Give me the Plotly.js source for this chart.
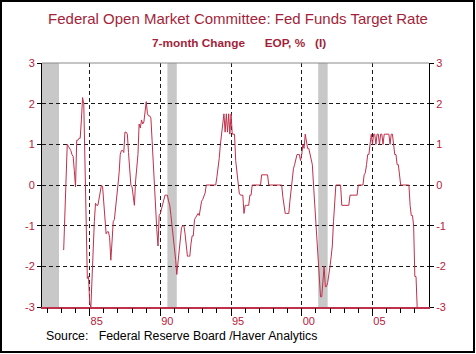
<!DOCTYPE html>
<html><head><meta charset="utf-8">
<script src="https://cdn.plot.ly/plotly-3.0.1.min.js"></script>
<style>
html,body{margin:0;padding:0;background:#fff;overflow:hidden}
#chart{width:476px;height:354px;position:absolute;left:0;top:0}
#frame{position:absolute;left:0;top:0;width:475px;height:353px;box-sizing:border-box;border:2px solid #000;pointer-events:none}
</style></head><body>
<div id="chart"></div><div id="frame"></div>
<script>
// ---- data ----
const titleText = "Federal Open Market Committee: Fed Funds Target Rate";
const subtitleText = "<b>7-month Change\u00a0\u00a0\u00a0\u00a0\u00a0\u00a0EOP, %\u00a0\u00a0\u00a0(I)</b>";
const sourceText = "Source:\u00a0\u00a0\u00a0Federal Reserve Board /Haver Analytics";

const firstYear = 1983;
const firstMonth = 3; // March 1983, monthly thereafter
const sevenMonthChange = [
  // 1983 Mar-Dec
  -1.6, -0.8, 0.2, 1.0, 0.95, 0.9, 0.85, 0.75, 0.7, 0.35,
  // 1984
  -0.05, 1.1, 1.1, 1.15, 1.15, 1.6, 2.15, 2.0, 0.5, -1.0, -2.3, -2.25,
  // 1985
  -2.9, -3.0, -2.2, -1.4, -0.9, -0.45, -0.5, -0.5, -0.35, -0.2, 0.0, -0.05,
  // 1986
  -0.55, -0.9, -1.2, -1.15, -1.15, -1.3, -1.85, -1.4, -0.9, -0.85, -0.6, -0.35,
  // 1987
  0.0, 0.3, 0.75, 0.85, 0.85, 0.8, 1.3, 1.3, 1.25, 0.8, 0.3, 0.0,
  // 1988
  -0.05, -0.3, -0.5, 0.1, 0.4, 0.75, 1.5, 1.4, 1.6, 1.5, 1.55, 1.85,
  // 1989
  2.05, 1.75, 1.7, 1.7, 1.65, 1.1, 0.5, 0.0, -0.6, -1.1, -1.5, -0.75,
  // 1990
  -0.7, -0.6, -0.5, -0.35, -0.25, -0.25, -0.25, -0.4, -0.5, -0.75, -1.0, -1.2,
  // 1991
  -1.5, -1.85, -2.2, -1.9, -1.65, -1.35, -1.05, -1.0, -1.0, -1.2, -1.5, -1.75,
  // 1992
  -1.75, -1.75, -1.45, -1.25, -1.25, -0.85, -0.8, -0.75, -0.7, -0.75, -0.6, -0.4,
  // 1993
  -0.35, -0.25, -0.2, 0, 0, 0, 0, 0, 0, 0, 0, 0,
  // 1994
  0.2, 0.4, 0.65, 1.0, 1.25, 1.5, 1.75, 1.3, 1.75, 1.3, 1.75, 1.25,
  // 1995
  1.75, 1.25, 1.25, 1.25, 0.6, 0.3, 0.0, -0.2, -0.25, -0.25, -0.25, -0.7,
  // 1996
  -0.5, -0.5, -0.5, -0.5, -0.25, -0.25, 0, 0, 0, 0, 0, 0,
  // 1997
  0, 0, 0.25, 0.25, 0.25, 0.25, 0.25, 0.25, 0, 0, 0, 0,
  // 1998
  0, 0, 0, 0, 0, 0, 0, 0, -0.3, -0.5, -0.7, -0.7,
  // 1999
  -0.7, -0.7, -0.4, -0.1, 0.25, 0.4, 0.5, 0.6, 0.75, 0.75, 0.75, 0.6,
  // 2000
  0.75, 1.0, 0.9, 1.25, 1.1, 0.9, 0.9, 0.75, 0.55, 0.5, 0.0, -0.5,
  // 2001
  -1.0, -1.4, -2.0, -2.5, -2.75, -2.75, -2.25, -2.0, -2.5, -2.5, -2.4, -2.25,
  // 2002
  -2.0, -1.75, -1.5, -0.9, -0.3, 0, 0, 0, 0, 0, -0.5, -0.5,
  // 2003
  -0.5, -0.5, -0.5, -0.5, -0.5, -0.25, -0.25, -0.25, -0.25, -0.25, -0.25, -0.25,
  // 2004
  0, 0, 0, 0, 0, 0.25, 0.3, 0.5, 0.75, 0.75, 1.0, 1.25,
  // 2005
  1.0, 1.25, 1.25, 1.0, 1.25, 1.25, 1.0, 1.25, 1.25, 1.0, 1.25, 1.25,
  // 2006
  1.25, 1.25, 1.25, 1.0, 1.25, 1.25, 1.0, 0.75, 0.75, 0.5, 0.5, 0.25,
  // 2007
  0, 0, 0, 0, 0, 0, 0, 0, -0.5, -0.75, -0.75, -1.0,
  // 2008
  -2.25, -2.25, -3.0
];

const recessionStart = ["1981-07-01", "1990-07-01", "2001-03-01"];
const recessionEnd   = ["1982-11-01", "1991-03-01", "2001-11-01"];

const xTickYears  = [1985, 1990, 1995, 2000, 2005];
const xTickLabels = ["85", "90", "95", "00", "05"];
const yTickValues = [-3, -2, -1, 0, 1, 2, 3];
const yTickLabels = ["-3", "-2", "-1", "0", "1", "2", "3"];
const minorYears  = [1982, 1983, 1984, 1985, 1986, 1987, 1988, 1989, 1990, 1991, 1992,
                     1993, 1994, 1995, 1996, 1997, 1998, 1999, 2000, 2001, 2002, 2003,
                     2004, 2005, 2006, 2007, 2008];
const xRange = ["1981-08-18", "2009-01-01"];

// ---- build ----
const pad = n => (n < 10 ? "0" : "") + n;
const dates = sevenMonthChange.map((v, i) => {
  const m = (firstYear * 12 + firstMonth - 1) + i;
  return Math.floor(m / 12) + "-" + pad(m % 12 + 1) + "-01";
});

const lineRed  = "#c0304a";
const tickRed  = "#b8203c";
const titleRed = "#a31f3a";
const gridCol  = "#1a1a1a";
const fontFam  = '"Liberation Sans", Arial, Helvetica, sans-serif';

const traces = [
  {x: dates, y: sevenMonthChange, type: "scatter", mode: "lines",
   line: {color: lineRed, width: 1}, xaxis: "x", yaxis: "y", hoverinfo: "x+y"},
  {x: [], y: [], type: "scatter", mode: "lines", xaxis: "x2", yaxis: "y", hoverinfo: "skip"},
  {x: [], y: [], type: "scatter", mode: "lines", xaxis: "x3", yaxis: "y", hoverinfo: "skip"},
  {x: [], y: [], type: "scatter", mode: "lines", xaxis: "x", yaxis: "y2", hoverinfo: "skip"}
];

const shapes = recessionStart.map((s, i) => ({
  type: "rect", xref: "x", yref: "paper", x0: s, x1: recessionEnd[i], y0: 0, y1: 1,
  fillcolor: "#c8c8c8", line: {width: 0}, layer: "below"
}));
shapes.push({type: "line", xref: "paper", yref: "paper", x0: 0, x1: 1, y0: 1, y1: 1,
  line: {color: "#8a8a8a", width: 1}, layer: "above"});

const layout = {
  width: 476, height: 354,
  margin: {l: 42, r: 47, t: 63, b: 47, pad: 0},
  paper_bgcolor: "#fff", plot_bgcolor: "#fff",
  showlegend: false,
  font: {family: fontFam, size: 11, color: tickRed},
  title: {text: titleText, x: 0.5, xref: "container", xanchor: "center",
          y: 1 - 19 / 354, yref: "container", yanchor: "middle",
          font: {family: fontFam, size: 15, color: titleRed}},
  xaxis: {type: "date", range: xRange, tickmode: "array",
          tickvals: xTickYears.map(y => y + "-07-01"), ticktext: xTickLabels,
          ticks: "outside", ticklen: 3, tickcolor: "rgba(0,0,0,0)",
          showgrid: false, zeroline: false,
          showline: true, linecolor: lineRed, linewidth: 1.5,
          tickfont: {family: fontFam, size: 11, color: tickRed}, fixedrange: true},
  xaxis2: {type: "date", overlaying: "x", range: xRange, tickmode: "array",
           tickvals: xTickYears.map(y => y + "-01-01"),
           ticks: "outside", ticklen: 8, tickcolor: "#000", tickwidth: 1,
           showticklabels: false, showgrid: true, gridcolor: gridCol,
           griddash: "4px,3px", gridwidth: 1, zeroline: false, showline: false,
           fixedrange: true},
  xaxis3: {type: "date", overlaying: "x", range: xRange, tickmode: "array",
           tickvals: minorYears.map(y => y + "-01-01"),
           ticks: "outside", ticklen: 5, tickcolor: "#000", tickwidth: 1,
           showticklabels: false, showgrid: false, zeroline: false, showline: false,
           fixedrange: true},
  yaxis: {range: [-3, 3], tickmode: "array", tickvals: yTickValues, ticktext: yTickLabels,
          ticks: "outside", ticklen: 4, tickcolor: "#000",
          showgrid: true, gridcolor: gridCol, griddash: "4px,3px", gridwidth: 1,
          zeroline: false, showline: true, linecolor: "#000", linewidth: 1,
          tickfont: {family: fontFam, size: 11, color: tickRed}, fixedrange: true},
  yaxis2: {range: [-3, 3], overlaying: "y", side: "right", tickmode: "array",
           tickvals: yTickValues, ticktext: yTickLabels,
           ticks: "outside", ticklen: 4, tickcolor: "#000",
           showgrid: false, zeroline: false, showline: true, linecolor: "#000", linewidth: 1,
           tickfont: {family: fontFam, size: 11, color: tickRed}, fixedrange: true},
  shapes: shapes,
  annotations: [
    {text: subtitleText, xref: "paper", yref: "paper", x: (239 - 42) / 387, y: 1 + (63 - 43) / 244,
     xanchor: "center", yanchor: "middle", showarrow: false,
     font: {family: fontFam, size: 11.8, color: titleRed}},
    {text: sourceText, xref: "paper", yref: "paper", x: (44 - 42) / 387, y: -(335.5 - 307) / 244,
     xanchor: "left", yanchor: "middle", showarrow: false,
     font: {family: fontFam, size: 12.3, color: "#000"}}
  ]
};

Plotly.newPlot("chart", traces, layout, {displayModeBar: false, staticPlot: true});
</script>
</body></html>
